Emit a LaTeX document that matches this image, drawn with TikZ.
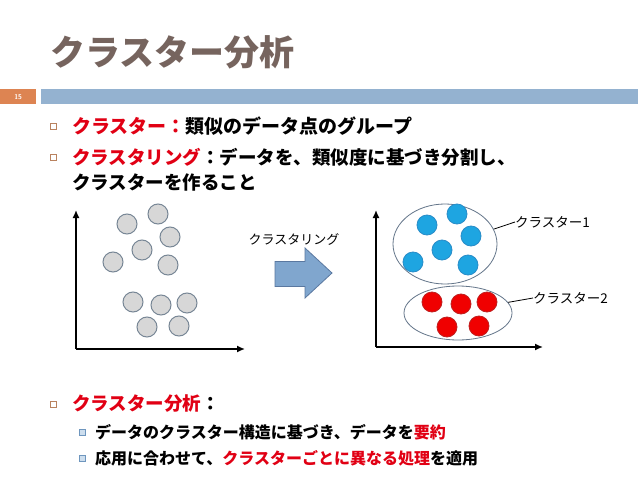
\documentclass[tikz,border=0pt]{standalone}
\usepackage{fontspec}
\newfontfamily\jp{Noto Sans CJK JP}
\usetikzlibrary{arrows.meta,shapes.geometric}
\definecolor{titlecol}{RGB}{118,100,94}
\definecolor{numbox}{RGB}{221,132,82}
\definecolor{barcol}{RGB}{148,178,208}
\definecolor{hred}{RGB}{225,0,20}
\definecolor{bulbrown}{RGB}{185,130,95}
\definecolor{subline}{RGB}{110,150,190}
\definecolor{subfill}{RGB}{205,222,238}
\definecolor{gfill}{RGB}{215,215,215}
\definecolor{gdraw}{RGB}{120,135,150}
\definecolor{bfill}{RGB}{30,165,225}
\definecolor{bdraw}{RGB}{40,140,200}
\definecolor{rfill}{RGB}{240,0,0}
\definecolor{rdraw}{RGB}{190,30,30}
\definecolor{arrfill}{RGB}{128,166,206}
\definecolor{arrdraw}{RGB}{90,120,160}
\definecolor{elldraw}{RGB}{100,118,138}
\tikzset{
  txt/.style={anchor=west,inner sep=0pt,font=\jp\bfseries},
  mainbul/.style={draw=bulbrown,fill=white,line width=0.8pt,minimum size=6pt,inner sep=0pt},
  subbul/.style={draw=subline,fill=subfill,line width=1pt,minimum size=6pt,inner sep=0pt},
  gdot/.style={circle,draw=gdraw,fill=gfill,line width=1pt,minimum size=20pt,inner sep=0pt},
  bdot/.style={circle,draw=bdraw,fill=bfill,line width=0.8pt,minimum size=20pt,inner sep=0pt},
  rdot/.style={circle,draw=rdraw,fill=rfill,line width=0.8pt,minimum size=20pt,inner sep=0pt},
  axis/.style={line width=1.5pt,-{Latex[length=8pt,width=7pt]}},
  clus/.style={ellipse,draw=elldraw,line width=0.8pt,inner sep=0pt},
  lab/.style={inner sep=0pt,font=\jp\fontsize{13.5}{16}\selectfont},
}
\begin{document}
\begin{tikzpicture}[x=1pt,y=-1pt]
\useasboundingbox (0,0) rectangle (638,479);
\fill[white] (0,0) rectangle (638,479);
% title
\node[anchor=west,inner sep=0pt,text=titlecol,font=\jp\bfseries\fontsize{35}{40}\selectfont] (title) at (50,52) {クラスター分析};
% page bar
\node[fill=numbox,minimum width=36pt,minimum height=15pt,inner sep=0pt,anchor=north west,text=white,font=\sffamily\bfseries\fontsize{7}{8}\selectfont] (num) at (0,89) {15};
\node[fill=barcol,minimum width=597pt,minimum height=15pt,inner sep=0pt,anchor=north west] (bar) at (41,89) {};
% bullets
\node[mainbul] (b1) at (53,126) {};
\node[txt,font=\jp\bfseries\fontsize{19}{22}\selectfont] (t1) at (72,126) {\textcolor{hred}{クラスター：}類似のデータ点のグループ};
\node[mainbul] (b2) at (53,157) {};
\node[txt,font=\jp\bfseries\fontsize{18.5}{22}\selectfont] (t2) at (72,157) {\textcolor{hred}{クラスタリング}：データを、類似度に基づき分割し、};
\node[txt,font=\jp\bfseries\fontsize{18.5}{22}\selectfont] (t3) at (72,183) {クラスターを作ること};
% left plot
\coordinate (lo) at (76,349);
\coordinate (ly) at (76,210);
\coordinate (lx) at (245,349);
\draw[axis] (lo) -- (ly);
\draw[axis] (lo) -- (lx);
\node[gdot] (g1) at (158,214) {};
\node[gdot] (g2) at (127,224) {};
\node[gdot] (g3) at (170,237) {};
\node[gdot] (g4) at (142,250) {};
\node[gdot] (g5) at (113,262) {};
\node[gdot] (g6) at (168,265) {};
\node[gdot] (g7) at (133,302) {};
\node[gdot] (g8) at (161,305) {};
\node[gdot] (g9) at (187,303) {};
\node[gdot] (g10) at (147,327) {};
\node[gdot] (g11) at (179,326) {};
% block arrow
\draw[fill=arrfill,draw=arrdraw,line width=0.8pt] (275,261.5) -- (305,261.5) -- (305,248) -- (332,273) -- (305,298) -- (305,286.5) -- (275,286.5) -- cycle;
\node[lab,font=\jp\fontsize{13}{16}\selectfont] (clabel) at (294,239) {クラスタリング};
% right plot
\coordinate (ro) at (376,347);
\coordinate (ry) at (376,210);
\coordinate (rx) at (543,347);
\draw[axis] (ro) -- (ry);
\draw[axis] (ro) -- (rx);
\node[clus,minimum width=104pt,minimum height=80pt] (e1) at (445,244) {};
\node[clus,minimum width=108pt,minimum height=54pt] (e2) at (458,313) {};
\node[bdot] (c1) at (457,214) {};
\node[bdot] (c2) at (427,225) {};
\node[bdot] (c3) at (471,236) {};
\node[bdot] (c4) at (442,250) {};
\node[bdot] (c5) at (413,262) {};
\node[bdot] (c6) at (468,265) {};
\node[rdot] (r1) at (432,302) {};
\node[rdot] (r2) at (461,304) {};
\node[rdot] (r3) at (487,302) {};
\node[rdot] (r4) at (447,327) {};
\node[rdot] (r5) at (479,326) {};
\node[lab,anchor=west] (l1) at (515,222) {クラスター1};
\node[lab,anchor=west] (l2) at (533,298) {クラスター2};
\draw[line width=0.8pt] (e1.17) -- (l1.west);
\draw[line width=0.8pt] (e2.12) -- (l2.west);
% bottom bullets
\node[mainbul] (b3) at (53,404) {};
\node[txt,font=\jp\bfseries\fontsize{18.5}{22}\selectfont] (t4) at (72,404) {\textcolor{hred}{クラスター分析}：};
\node[subbul] (s1) at (82,432) {};
\node[txt,font=\jp\bfseries\fontsize{16}{20}\selectfont] (t5) at (95,432) {データのクラスター構造に基づき、データを\textcolor{hred}{要約}};
\node[subbul] (s2) at (82,458) {};
\node[txt,font=\jp\bfseries\fontsize{16}{20}\selectfont] (t6) at (95,458) {応用に合わせて、\textcolor{hred}{クラスターごとに異なる処理}を適用};
\end{tikzpicture}
\end{document}
